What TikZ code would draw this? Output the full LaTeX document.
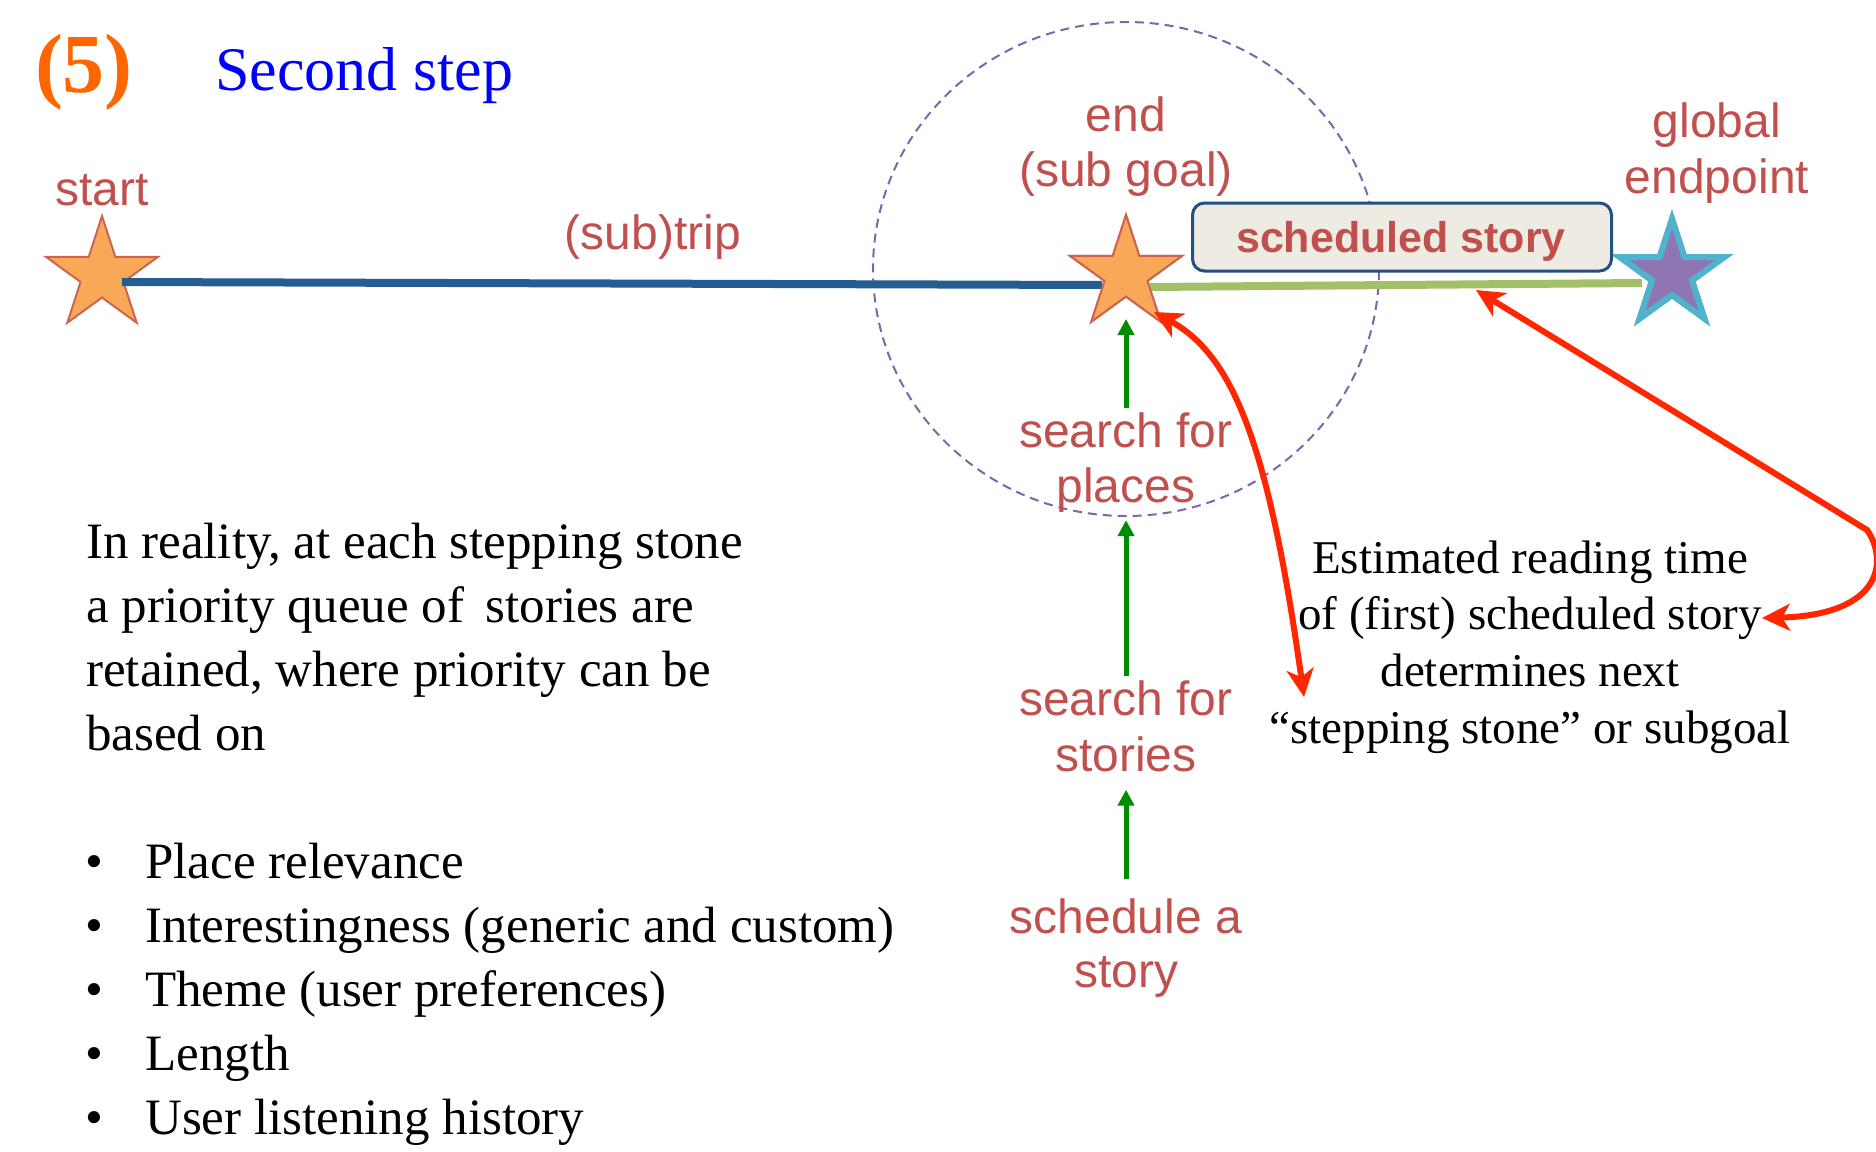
\documentclass[tikz,border=0pt]{standalone}
\usepackage{fontspec}
\setmainfont{Liberation Serif}
\setsansfont{Liberation Sans}
\usetikzlibrary{shapes.geometric,arrows.meta}
\definecolor{lblred}{RGB}{192,80,77}
\definecolor{arrred}{RGB}{255,38,0}
\definecolor{arrgreen}{RGB}{0,140,0}
\definecolor{tripblue}{RGB}{38,93,145}
\definecolor{tripgreen}{RGB}{163,192,105}
\definecolor{starorange}{RGB}{249,168,88}
\definecolor{starborder}{RGB}{205,100,80}
\definecolor{gstarfill}{RGB}{143,118,178}
\definecolor{gstarborder}{RGB}{80,178,205}
\definecolor{circlecol}{RGB}{128,100,170}
\definecolor{boxfill}{RGB}{238,236,226}
\definecolor{boxborder}{RGB}{35,80,130}
\definecolor{titleorange}{RGB}{255,102,0}
\tikzset{
  lbl/.style={font=\sffamily\fontsize{48}{56}\selectfont, text=lblred, inner sep=0pt, anchor=base},
  ser/.style={font=\fontsize{47}{57}\selectfont, text=black, inner sep=0pt, anchor=base},
  lft/.style={font=\fontsize{51}{64}\selectfont, text=black, inner sep=0pt, anchor=base west},
  garrow/.style={draw=arrgreen, line width=5pt, -{Triangle[length=16pt,width=16pt]}},
  rarrow/.style={draw=arrred, line width=6pt, {Stealth[length=28pt,width=27pt,inset=8pt]}-{Stealth[length=28pt,width=27pt,inset=8pt]}},
  ostar/.style={star, star points=5, star point ratio=2.618, fill=starorange, draw=starborder, line width=2pt, minimum size=118pt, inner sep=0pt},
  gstar/.style={star, star points=5, star point ratio=2.618, fill=gstarfill, draw=gstarborder, line width=6pt, minimum size=110pt, inner sep=0pt},
  storybox/.style={draw=boxborder, fill=boxfill, line width=3pt, rounded corners=12pt, minimum width=419pt, minimum height=68pt, inner sep=0pt},
  storytext/.style={font=\sffamily\bfseries\fontsize{43}{50}\selectfont, text=lblred, inner sep=0pt, anchor=base},
  tripline/.style={line width=8pt}
}
\begin{document}
\begin{tikzpicture}[x=1pt,y=-1pt]
\useasboundingbox (0,0) rectangle (1876,1151);

% title
\node[font=\bfseries\fontsize{84}{90}\selectfont, text=titleorange, anchor=base, inner sep=0pt] (num) at (84,92) {(5)};
\node[font=\fontsize{62}{70}\selectfont, text=blue, anchor=base west, inner sep=0pt] (ttl) at (215,90) {Second step};

% dashed circle
\node[draw=circlecol, line width=2pt, dash pattern=on 9pt off 6pt, ellipse, minimum width=506pt, minimum height=494pt, inner sep=0pt] (zone) at (1126,269) {};

% stars
\node[ostar] (startstar) at (102,275) {};
\node[ostar] (endstar) at (1126,274) {};
\node[gstar] (globstar) at (1672,274) {};

\draw[tripline, tripblue] ([shift={(20pt,-7pt)}]startstar.center) -- ([shift={(-24pt,-11pt)}]endstar.center);
\draw[tripline, tripgreen] ([shift={(24pt,-13pt)}]endstar.center) -- ([shift={(-30pt,-9pt)}]globstar.center);

% stars on top of the line ends
\node[ostar] at (1126,274) {};
\node[gstar] at (1672,274) {};

\node[storybox] (box) at (1402,237) {};
\node[storytext] (boxtext) at (1401,252) {scheduled story};

% labels
\node[lbl] (lstart) at (102,205) {start};
\node[lbl] (ltrip) at (653,249) {(sub)trip};
\node[lbl] (lend1) at (1126,131) {end};
\node[lbl] (lend2) at (1126,186) {(sub goal)};
\node[lbl] (lglob1) at (1717,137) {global};
\node[lbl] (lglob2) at (1717,193) {endpoint};
\node[lbl] (sfp) at (1126,447) {search for};
\node[lbl] (places) at (1126,502) {places};
\node[lbl] (sfs) at (1126,715) {search for};
\node[lbl] (stories) at (1126,771) {stories};
\node[lbl] (sched) at (1126,933) {schedule a};
\node[lbl] (story) at (1126,987) {story};

% green arrows
\draw[garrow] ([yshift=4pt]sfp.north) -- ([yshift=-45pt]endstar.center);
\draw[garrow] ([yshift=4pt]sfs.north) -- ([yshift=-8pt]places.south);
\draw[garrow] ([yshift=19pt]sched.north) -- ([yshift=-18pt]stories.south);

% right text
\node[ser] (e1) at (1530,573) {Estimated reading time};
\node[ser] (e2) at (1530,629) {of (first) scheduled story};
\node[ser] (e3) at (1530,686) {determines next};
\node[ser] (e4) at (1530,743) {“stepping stone” or subgoal};

% red arrows
\coordinate (r1end) at (1304,697);
\coordinate (r2a) at (1476,290);
\coordinate (r2b) at (1762,618);
\coordinate (r2c) at (1867,530);
\draw[rarrow] ([shift={(28pt,-38pt)}]endstar.center) .. controls (1232,355) and (1268,440) .. (r1end);
\draw[rarrow] (r2a) -- (r2c) .. controls (1888,560) and (1883,615) .. (r2b);

% left text
\node[lft] (t1) at (86,558) {In reality, at each stepping stone};
\node[lft] (t2) at (86,622) {a priority queue of\, stories are};
\node[lft] (t3) at (86,686) {retained, where priority can be};
\node[lft] (t4) at (86,750) {based on};

\node[lft, anchor=base] (b1) at (94,878) {\textbullet};
\node[lft, anchor=base] (b2) at (94,942) {\textbullet};
\node[lft, anchor=base] (b3) at (94,1006) {\textbullet};
\node[lft, anchor=base] (b4) at (94,1070) {\textbullet};
\node[lft, anchor=base] (b5) at (94,1134) {\textbullet};
\node[lft] (i1) at (145,878) {Place relevance};
\node[lft] (i2) at (145,942) {Interestingness (generic and custom)};
\node[lft] (i3) at (145,1006) {Theme (user preferences)};
\node[lft] (i4) at (145,1070) {Length};
\node[lft] (i5) at (145,1134) {User listening history};
\end{tikzpicture}
\end{document}
